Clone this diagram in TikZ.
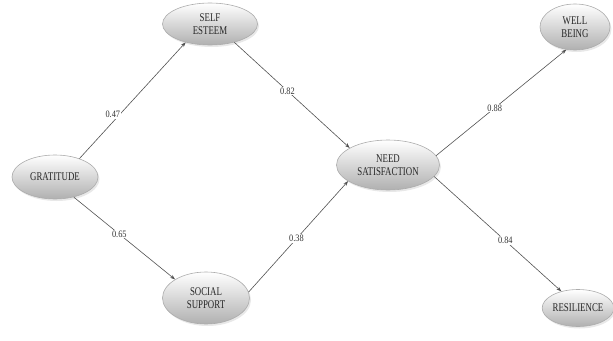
\documentclass[tikz,border=0pt]{standalone}
\usepackage{fontspec}
\setmainfont{Liberation Serif}
\newfontfamily\nodefont[FakeStretch=0.75]{Liberation Serif}
\newfontfamily\lblfont[FakeStretch=0.85]{Liberation Serif}
\usetikzlibrary{shapes.geometric,arrows.meta,shadows}
\begin{document}
\begin{tikzpicture}[x=1pt,y=-1pt,
  construct/.style={ellipse, draw=gray!65, line width=0.6pt, top color=white, bottom color=gray!62,
    minimum width=#1, inner sep=0pt, align=center, text=black!85,
    font=\nodefont\fontsize{11.8}{12.5}\selectfont,
    drop shadow={opacity=0.18, shadow xshift=1.5pt, shadow yshift=-2pt}},
  path/.style={draw=black!68, line width=0.6pt, -{Stealth[length=5pt,width=3.6pt]}},
  coef/.style={fill=white, inner sep=1pt, text=black!80, font=\lblfont\fontsize{9.8}{10}\selectfont}]
\useasboundingbox (0,0) rectangle (613,340);
\node[construct=86pt, minimum height=44pt] (grat) at (55,177) {GRATITUDE};
\node[construct=95pt, minimum height=42pt] (self) at (210,24) {SELF\\ESTEEM};
\node[construct=87pt, minimum height=52pt] (soc) at (206,298) {SOCIAL\\SUPPORT};
\node[construct=103pt, minimum height=50pt] (need) at (388,165) {NEED\\SATISFACTION};
\node[construct=70pt, minimum height=46pt] (well) at (575,27) {WELL\\BEING};
\node[construct=70pt, minimum height=37pt] (res) at (578,308) {RESILIENCE};
\path[path] (grat.37) -- node[coef, pos=0.38, xshift=-7pt] {0.47} (self.217);
\path[path] (grat.-47) -- node[coef, pos=0.45] {0.65} (soc.149);
\path[path] (self.-37) -- node[coef, pos=0.46] {0.82} (need.156);
\path[path] (soc.8) -- node[coef, pos=0.48] {0.38} (need.202);
\path[path] (need.11) -- node[coef, pos=0.45] {0.88} (well.249);
\path[path] (need.-14) -- node[coef, pos=0.56] {0.84} (res.135);
\end{tikzpicture}
\end{document}
